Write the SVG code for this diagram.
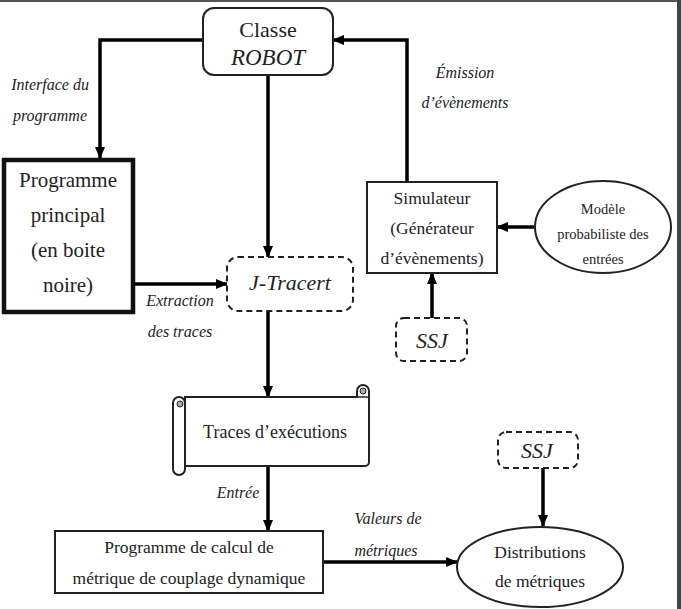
<svg xmlns="http://www.w3.org/2000/svg" width="681" height="609" viewBox="0 0 681 609" font-family="Liberation Serif, serif">
<defs>
<marker id="ah" markerUnits="userSpaceOnUse" markerWidth="12" markerHeight="10" refX="11" refY="5" orient="auto">
<path d="M0,0 L12,5 L0,10 Z" fill="#000"/>
</marker>
<style>
text{font-family:"Liberation Serif",serif}
.t{fill:#222;text-anchor:middle}
.i{font-style:italic}
.box{fill:#fff;stroke:#222;stroke-width:2}
.dash{fill:#fff;stroke:#222;stroke-width:2;stroke-dasharray:6,4}
.c{fill:none;stroke:#000;stroke-width:3.5}
</style>
</defs>
<rect width="681" height="609" fill="#fff"/>
<rect x="0" y="0" width="681" height="2" fill="#555"/>
<rect x="677" y="0" width="4" height="609" fill="#444"/>

<g id="connectors">
<path class="c" d="M203,40 H100 V158" marker-end="url(#ah)"/>
<path class="c" d="M268,75 V257" marker-end="url(#ah)"/>
<path class="c" d="M135,284 H227" marker-end="url(#ah)"/>
<path class="c" d="M268,311 V397" marker-end="url(#ah)"/>
<path class="c" d="M268,467 V531" marker-end="url(#ah)"/>
<path class="c" d="M323,562 H457" marker-end="url(#ah)"/>
<path class="c" d="M543,468 V526" marker-end="url(#ah)"/>
<path class="c" d="M407,182 V40 H333" marker-end="url(#ah)"/>
<path class="c" d="M535,227 H497" marker-end="url(#ah)"/>
<path class="c" d="M432,318 V273" marker-end="url(#ah)"/>
</g>

<g id="labels">
<text class="t i" x="50" y="90" font-size="16" font-family="Liberation Serif">Interface du</text>
<text class="t i" x="50" y="121" font-size="16">programme</text>
<text class="t i" x="465" y="78" font-size="16">Émission</text>
<text class="t i" x="465" y="108" font-size="16">d’évènements</text>
<text class="t i" x="180" y="306" font-size="16">Extraction</text>
<text class="t i" x="180" y="337" font-size="16">des traces</text>
<text class="t i" x="238" y="498" font-size="16">Entrée</text>
<text class="t i" x="388" y="524" font-size="16">Valeurs de</text>
<text class="t i" x="386" y="556" font-size="16">métriques</text>
</g>

<g id="classe-robot">
<rect class="box" x="203" y="8" width="130" height="67" rx="11"/>
<text class="t" x="268" y="37" font-size="22">Classe</text>
<text class="t i" x="268" y="65" font-size="23">ROBOT</text>
</g>

<g id="programme-principal">
<rect x="4" y="160" width="129" height="152" fill="#fff" stroke="#111" stroke-width="4.5"/>
<text class="t" x="68" y="187" font-size="21">Programme</text>
<text class="t" x="68" y="222" font-size="21">principal</text>
<text class="t" x="68" y="257" font-size="21">(en boite</text>
<text class="t" x="68" y="292" font-size="21">noire)</text>
</g>

<g id="j-tracert">
<rect class="dash" x="227" y="257" width="126" height="54" rx="11"/>
<text class="t i" x="290" y="290" font-size="22">J-Tracert</text>
</g>

<g id="simulateur">
<rect class="box" x="367" y="182" width="130" height="91"/>
<text class="t" x="432" y="204" font-size="17.5">Simulateur</text>
<text class="t" x="432" y="234" font-size="17.5">(Générateur</text>
<text class="t" x="432" y="264" font-size="17.5">d’évènements)</text>
</g>

<g id="modele">
<ellipse class="box" cx="603" cy="227" rx="68" ry="46"/>
<text class="t" x="603" y="214" font-size="14.5">Modèle</text>
<text class="t" x="603" y="239" font-size="14.5">probabiliste des</text>
<text class="t" x="603" y="264" font-size="14.5">entrées</text>
</g>

<g id="ssj-1">
<rect class="dash" x="396" y="318" width="71" height="43" rx="8"/>
<text class="t i" x="432" y="348" font-size="22">SSJ</text>
</g>

<g id="traces">
<path class="box" d="M185,397 H357 V391 A6,6 0 0 1 369,391 V462 A4,4 0 0 1 365,466 H185 Z"/>
<path fill="none" stroke="#222" stroke-width="1.5" d="M357,397 H369"/>
<circle cx="363" cy="391" r="3" fill="#aaa" stroke="#222" stroke-width="1"/>
<path class="box" d="M173,403 A6,6 0 0 1 185,403 V469 A6,6 0 0 1 173,469 Z"/>
<circle cx="180" cy="404" r="3" fill="#aaa" stroke="#222" stroke-width="1"/>
<text class="t" x="275" y="438" font-size="18">Traces d’exécutions</text>
</g>

<g id="ssj-2">
<rect class="dash" x="498" y="432" width="80" height="36" rx="8"/>
<text class="t i" x="537" y="458" font-size="22">SSJ</text>
</g>

<g id="programme-calcul">
<rect class="box" x="55" y="531" width="268" height="62"/>
<text class="t" x="189" y="553" font-size="17.5">Programme de calcul de</text>
<text class="t" x="189" y="584" font-size="17.5">métrique de couplage dynamique</text>
</g>

<g id="distributions">
<ellipse class="box" cx="540" cy="567" rx="83" ry="40"/>
<text class="t" x="540" y="558" font-size="17.5">Distributions</text>
<text class="t" x="540" y="587" font-size="17.5">de métriques</text>
</g>
</svg>
